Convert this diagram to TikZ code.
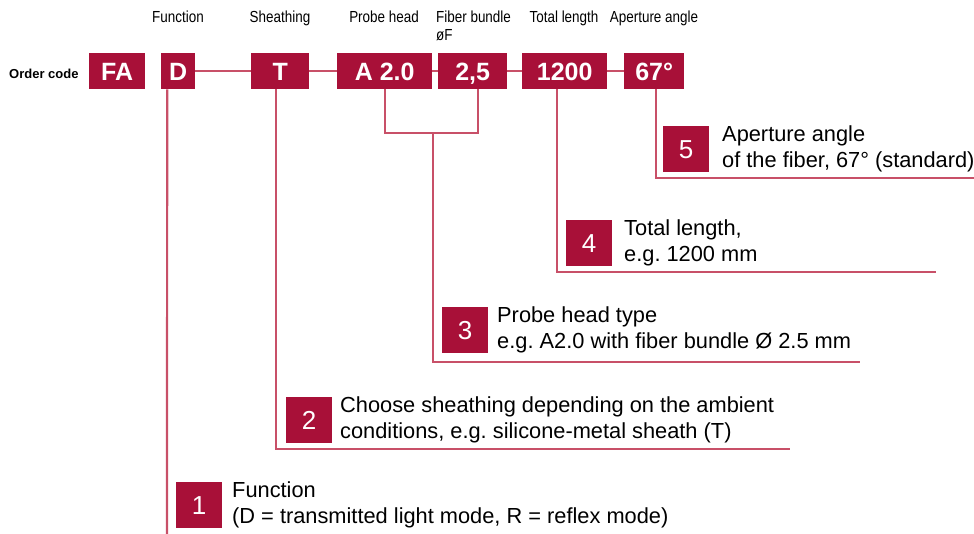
\documentclass[tikz,border=0pt]{standalone}
\usepackage{fontspec}
\setmainfont{Liberation Sans}
\newfontfamily\narrowfont[FakeStretch=0.84]{Liberation Sans}
\definecolor{boxred}{RGB}{168,16,56}
\definecolor{linered}{RGB}{200,80,104}
\frenchspacing
\begin{document}
\begin{tikzpicture}[x=1pt,y=-1pt,
  codebox/.style={fill=boxred,text=white,font=\fontsize{25}{25}\selectfont\bfseries,minimum height=36,inner sep=0,text height=18,text depth=0,anchor=north west},
  numbox/.style={fill=boxred,text=white,font=\fontsize{26}{26}\selectfont,minimum width=46,minimum height=46,inner sep=0,text height=18.6,text depth=0,anchor=north west},
  toplabel/.style={font=\narrowfont\fontsize{16}{18}\selectfont,inner sep=0,anchor=base},
  itemtext/.style={font=\fontsize{21.8}{26}\selectfont,inner sep=0,anchor=west,align=left},
  conn/.style={draw=linered,line width=2.2}]
\useasboundingbox (0,0) rectangle (974,534);

% top labels
\node[toplabel] (lf) at (178,23) {Function};
\node[toplabel] (ls) at (280,23) {Sheathing};
\node[toplabel] (lp) at (384,23) {Probe head};
\node[toplabel,anchor=north west,align=left] (lb) at (436,11) {Fiber bundle\\øF};
\node[toplabel] (ll) at (564,23) {Total length};
\node[toplabel] (la) at (654,23) {Aperture angle};
\node[font=\fontsize{13}{13}\selectfont\bfseries,inner sep=0,anchor=base west] (oc) at (9,79) {Order code};

% connector end points
\coordinate (e1) at (167,534);
\coordinate (e2) at (790,449);
\coordinate (j3) at (433,133);
\coordinate (e3) at (860,362);
\coordinate (e4) at (936,272);
\coordinate (e5) at (974,178);

% code boxes
\node[codebox,minimum width=56] (FA) at (89,53) {FA};
\node[codebox,minimum width=34] (D) at (161,53) {D};
\node[codebox,minimum width=58] (T) at (251,53) {T};
\node[codebox,minimum width=95] (A) at (337,53) {A 2.0};
\node[codebox,minimum width=69] (F) at (438,53) {2,5};
\node[codebox,minimum width=85] (L) at (522,53) {1200};
\node[codebox,minimum width=60] (G) at (624,53) {67°};

\draw[conn] (D.east) -- (T.west);
\draw[conn] (T.east) -- (A.west);
\draw[conn] (A.east) -- (F.west);
\draw[conn] (F.east) -- (L.west);
\draw[conn] (L.east) -- (G.west);

\draw[conn] ([xshift=-11pt]D.south) -- (e1);
\draw[conn] ([xshift=-4pt]T.south) |- (e2);
\draw[conn] (A.south) |- (j3) -| ([xshift=5.5pt]F.south);
\draw[conn] (j3) |- (e3);
\draw[conn] ([xshift=-7.5pt]L.south) |- (e4);
\draw[conn] ([xshift=2pt]G.south) |- (e5);

% numbered items
\node[numbox] (n5) at (663,126) {5};
\node[itemtext] (t5) at (722,149) {Aperture angle\\of the fiber, 67° (standard)};
\node[numbox] (n4) at (566,220) {4};
\node[itemtext] (t4) at (624,243) {Total length,\\e.g. 1200 mm};
\node[numbox] (n3) at (442,307) {3};
\node[itemtext] (t3) at (497,330) {Probe head type\\e.g. A2.0 with fiber bundle Ø 2.5 mm};
\node[numbox] (n2) at (286,397) {2};
\node[itemtext] (t2) at (340,420) {Choose sheathing depending on the ambient\\conditions, e.g. silicone-metal sheath (T)};
\node[numbox] (n1) at (176,482) {1};
\node[itemtext] (t1) at (232,505) {Function\\(D = transmitted light mode, R = reflex mode)};
\end{tikzpicture}
\end{document}
